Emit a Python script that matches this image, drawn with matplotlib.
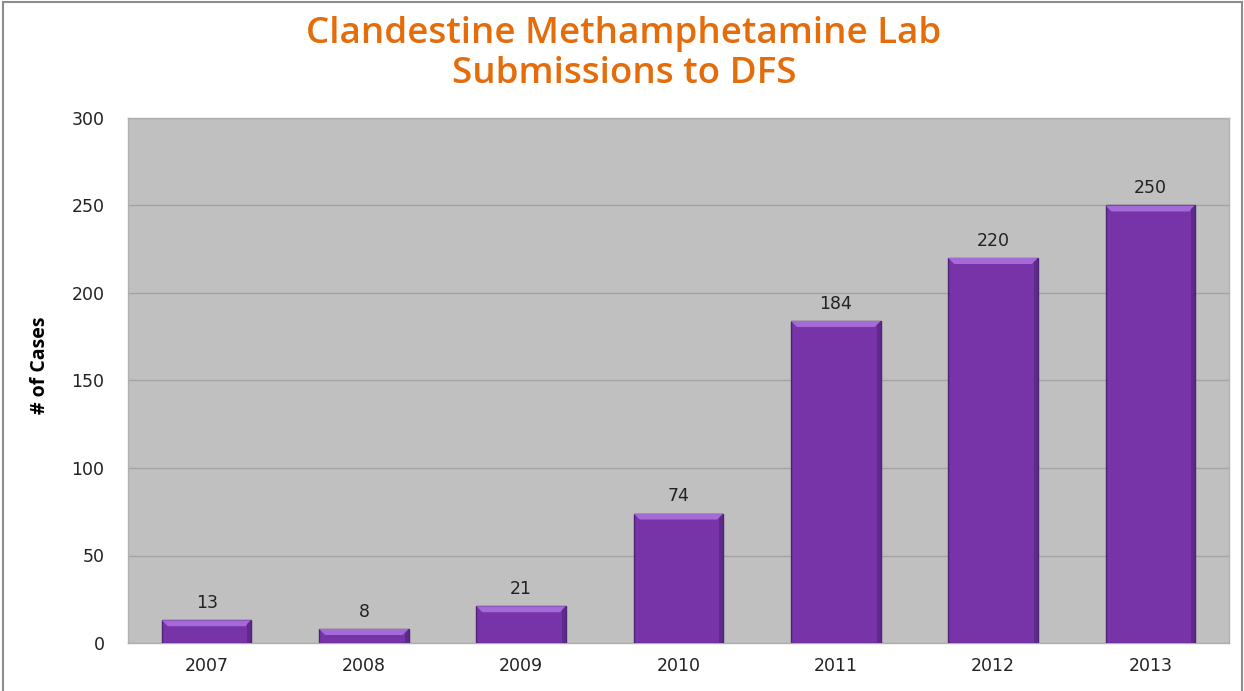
import matplotlib
matplotlib.use("Agg")
import matplotlib.pyplot as plt
from matplotlib.patches import Rectangle, Polygon

years = ["2007", "2008", "2009", "2010", "2011", "2012", "2013"]
cases = [13, 8, 21, 74, 184, 220, 250]
yticks = [0, 50, 100, 150, 200, 250, 300]
title_lines = ["Clandestine Methamphetamine Lab", "Submissions to DFS"]
ylabel = "# of Cases"

plt.rcParams["font.family"] = ["DejaVu Sans"]
head = ["Open Sans", "DejaVu Sans"]

fig = plt.figure(figsize=(12.44, 6.91), dpi=100)
ax = fig.add_axes([128/1244, 1-643/691, (1229-128)/1244, (643-118)/691])
ax.set_facecolor("#C0C0C0")
ax.set_axisbelow(True)
ax.grid(axis="y", color="#A3A3A3", linewidth=1.0)
x = list(range(len(years)))
bars = ax.bar(x, cases, width=0.57, color="#7634A8", edgecolor="#4E2272", linewidth=1.0, zorder=3)
ax.set_xlim(-0.5, len(years) - 0.5)
ax.set_ylim(0, 300)
ax.set_yticks(yticks)
ax.set_xticks(x)
ax.set_xticklabels(years)
ax.tick_params(axis="both", length=0, labelsize=12.5, colors="#222222")
ax.tick_params(axis="y", pad=17)
ax.tick_params(axis="x", pad=10)
for s in ax.spines.values():
    s.set_color("#B0B0B0")
    s.set_linewidth(1.0)

trans = ax.transData
inv = trans.inverted()
base_y = trans.transform((0, 0))[1]
for r in bars:
    x0, y0 = r.get_x(), r.get_y()
    w, h = r.get_width(), r.get_height()
    dx0, dy1 = trans.transform((x0, y0 + h))
    dx1, _ = trans.transform((x0 + w, y0 + h))
    bev = 6
    top = [(dx0, dy1), (dx1, dy1), (dx1 - bev, dy1 - bev), (dx0 + bev, dy1 - bev)]
    ax.add_patch(Polygon(inv.transform(top), closed=True, facecolor="#A36AD8", edgecolor="none", zorder=4))
    side = [(dx1, dy1), (dx1, base_y), (dx1 - 4, base_y), (dx1 - 4, dy1 - 4)]
    ax.add_patch(Polygon(inv.transform(side), closed=True, facecolor="#5E2A8A", edgecolor="none", zorder=4))
    ax.annotate(str(int(h)), (x0 + w / 2, y0 + h), xytext=(0, 6), textcoords="offset points",
                ha="center", va="bottom", fontsize=12.5, color="#222222", zorder=5)

for line, ypx in zip(title_lines, [34, 74]):
    fig.text(624/1244, 1 - ypx/691, line, ha="center", va="center", fontsize=26.5, fontweight="semibold",
             color="#E46C0A", family=head)
fig.text(40/1244, 1-365/691, ylabel, rotation=90, ha="center", va="center", fontsize=14,
         fontweight="bold", family=head, color="#000000")

fig.add_artist(Rectangle((3/1244, -0.01), (1242-3)/1244, 1-2/691 + 0.01, transform=fig.transFigure,
                         fill=False, edgecolor="#8C8C8C", linewidth=1.5))

fig.savefig("out.png", dpi=100, facecolor="white")
